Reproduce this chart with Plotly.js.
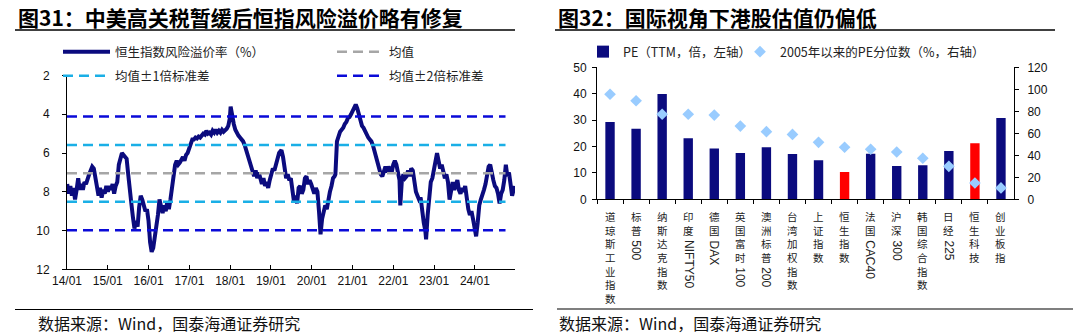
<!DOCTYPE html>
<html><head><meta charset="utf-8">
<script src="https://cdn.plot.ly/plotly-3.0.1.min.js"></script>
<style>html,body{margin:0;padding:0;background:#fff;}#chart{width:1080px;height:336px;}</style>
</head><body><div id="chart"></div>
<script>
// ===== 图31 data: 恒生指数风险溢价率（%） =====
const rpDates = [
'2014-01-03','2014-01-17','2014-01-31','2014-02-14','2014-02-28','2014-03-14','2014-03-28','2014-04-11','2014-04-25','2014-05-09','2014-05-23','2014-06-06','2014-06-20','2014-07-04','2014-07-18','2014-08-01','2014-08-15','2014-08-29','2014-09-12','2014-09-26','2014-10-10','2014-10-24','2014-11-07','2014-11-21','2014-12-05','2014-12-19',
'2015-01-02','2015-01-16','2015-01-30','2015-02-13','2015-02-27','2015-03-13','2015-03-27','2015-04-10','2015-04-24','2015-05-08','2015-05-22','2015-06-05','2015-06-19','2015-07-03','2015-07-17','2015-07-31','2015-08-14','2015-08-28','2015-09-11','2015-09-25','2015-10-09','2015-10-23','2015-11-06','2015-11-20','2015-12-04','2015-12-18',
'2016-01-01','2016-01-15','2016-01-29','2016-02-12','2016-02-26','2016-03-11','2016-03-25','2016-04-08','2016-04-22','2016-05-06','2016-05-20','2016-06-03','2016-06-17','2016-07-01','2016-07-15','2016-07-29','2016-08-12','2016-08-26','2016-09-09','2016-09-23','2016-10-07','2016-10-21','2016-11-04','2016-11-18','2016-12-02','2016-12-16','2016-12-30',
'2017-01-13','2017-01-27','2017-02-10','2017-02-24','2017-03-10','2017-03-24','2017-04-07','2017-04-21','2017-05-05','2017-05-19','2017-06-02','2017-06-16','2017-06-30','2017-07-14','2017-07-28','2017-08-11','2017-08-25','2017-09-08','2017-09-22','2017-10-06','2017-10-20','2017-11-03','2017-11-17','2017-12-01','2017-12-15','2017-12-29',
'2018-01-05','2018-01-19','2018-02-02','2018-02-16','2018-03-02','2018-03-16','2018-03-30','2018-04-13','2018-04-27','2018-05-11','2018-05-25','2018-06-08','2018-06-22','2018-07-06','2018-07-20','2018-08-03','2018-08-17','2018-08-31','2018-09-14','2018-09-28','2018-10-12','2018-10-26','2018-11-09','2018-11-23','2018-12-07','2018-12-21',
'2019-01-04','2019-01-18','2019-02-01','2019-02-15','2019-03-01','2019-03-15','2019-03-29','2019-04-05','2019-04-19','2019-05-03','2019-05-17','2019-05-31','2019-06-14','2019-06-28','2019-07-12','2019-07-26','2019-08-09','2019-08-23','2019-09-06','2019-09-20','2019-10-04','2019-10-18','2019-11-01','2019-11-15','2019-11-29','2019-12-13','2019-12-27',
'2020-01-10','2020-01-24','2020-02-07','2020-02-21','2020-03-06','2020-03-20','2020-04-03','2020-04-17','2020-05-01','2020-05-15','2020-05-29','2020-06-12','2020-06-26','2020-07-10','2020-07-24','2020-07-31','2020-08-14','2020-08-28','2020-09-11','2020-09-25','2020-10-09','2020-10-23','2020-11-06','2020-11-20','2020-12-04','2020-12-18',
'2021-01-01','2021-01-15','2021-01-29','2021-02-12','2021-02-26','2021-03-12','2021-03-26','2021-04-09','2021-04-23','2021-05-07','2021-05-21','2021-06-04','2021-06-18','2021-07-02','2021-07-16','2021-07-30','2021-08-13','2021-08-27','2021-09-10','2021-09-24','2021-10-08','2021-10-22','2021-11-05','2021-11-19','2021-12-03','2021-12-17','2021-12-31',
'2022-01-14','2022-01-28','2022-02-11','2022-02-25','2022-03-04','2022-03-18','2022-04-01','2022-04-15','2022-04-29','2022-05-13','2022-05-27','2022-06-10','2022-06-24','2022-07-08','2022-07-22','2022-08-05','2022-08-19','2022-09-02','2022-09-16','2022-09-30','2022-10-14','2022-10-21','2022-11-04','2022-11-18','2022-12-02','2022-12-16','2022-12-30',
'2023-01-13','2023-01-27','2023-02-10','2023-02-24','2023-03-10','2023-03-24','2023-04-07','2023-04-21','2023-05-05','2023-05-19','2023-06-02','2023-06-16','2023-06-30','2023-07-14','2023-07-28','2023-08-11','2023-08-25','2023-09-08','2023-09-22','2023-10-06','2023-10-20','2023-11-03','2023-11-17','2023-12-01','2023-12-15','2023-12-29',
'2024-01-12','2024-01-26','2024-02-09','2024-02-23','2024-03-08','2024-03-22','2024-04-05','2024-04-19','2024-05-03','2024-05-17','2024-05-31','2024-06-14','2024-06-28','2024-07-12','2024-07-26','2024-08-09','2024-08-23','2024-09-06','2024-09-20','2024-10-04','2024-10-18','2024-11-01','2024-11-15','2024-11-29','2024-12-13','2024-12-20'
];
const rpValues = [
7.6,8.1,7.7,8.2,7.8,8.4,7.9,7.3,7.9,7.6,7.9,7.5,7.6,7.3,7.1,6.9,6.7,6.8,7.3,8.0,8.2,7.8,8.3,7.9,8.1,7.7,
8.0,7.7,7.9,7.6,8.1,7.7,7.5,6.6,6.2,6.0,6.1,6.2,6.3,7.1,8.1,8.6,9.3,9.9,9.5,9.8,8.8,8.2,8.4,8.7,9.0,8.9,
9.5,10.6,11.1,10.9,10.4,9.6,9.2,8.4,8.9,9.1,8.7,9.0,8.5,8.9,8.4,7.8,7.0,6.6,6.4,6.6,6.5,6.3,6.2,6.4,6.1,6.0,5.8,
5.5,5.3,5.3,5.2,5.25,5.15,5.2,5.1,5.0,5.05,4.85,5.0,4.95,5.05,4.85,4.95,4.8,4.95,4.85,4.95,4.8,4.9,4.85,4.75,4.6,4.2,
3.6,4.2,4.5,4.8,5.0,5.1,5.2,5.3,5.4,5.6,5.9,6.1,6.4,6.8,6.9,7.2,6.9,7.3,7.0,7.4,7.6,7.3,7.7,7.5,7.8,7.4,
7.0,6.8,6.9,6.5,6.3,6.0,5.9,5.85,6.2,7.0,7.3,7.1,7.4,7.3,8.1,8.5,8.2,8.6,7.8,7.7,8.1,7.9,7.3,7.2,7.6,7.4,7.6,
7.9,8.1,7.8,8.0,9.0,10.2,9.4,9.0,8.7,8.9,8.3,8.0,7.7,7.3,7.2,7.1,5.4,5.1,4.9,4.8,4.7,4.5,4.4,4.2,4.15,4.0,
3.8,3.6,3.5,3.7,4.0,4.4,4.6,4.7,4.9,5.0,5.2,5.3,5.4,5.6,5.9,6.3,6.5,6.8,7.1,7.2,6.9,6.7,7.0,6.7,6.9,7.0,6.6,
6.4,6.6,7.0,7.4,8.7,7.4,7.1,7.3,7.2,6.9,7.2,6.8,6.9,7.6,8.0,8.2,8.4,8.3,9.1,9.6,10.0,10.45,9.2,8.0,7.5,7.3,6.9,
6.3,6.0,6.4,6.8,6.6,7.0,7.3,7.1,7.5,8.4,7.8,7.5,7.9,7.6,7.4,7.9,8.1,7.8,8.0,7.7,8.5,8.9,9.2,9.0,9.4,9.8,
10.3,9.6,8.7,8.4,8.2,7.9,7.6,7.1,6.7,6.6,7.1,7.4,7.7,7.8,8.1,8.6,8.1,7.9,7.4,6.6,7.2,7.0,7.6,8.2,7.9,7.7
];
const rpMean = 7.05;          // 均值
const rpStd = 1.47;           // 标准差
const bandDates = ['2014-01-01', '2024-10-01'];
const yearTickDates = ['2014-01-01','2015-01-01','2016-01-01','2017-01-01','2018-01-01','2019-01-01','2020-01-01','2021-01-01','2022-01-01','2023-01-01','2024-01-01'];
const yearTickText = ['14/01','15/01','16/01','17/01','18/01','19/01','20/01','21/01','22/01','23/01','24/01'];
const rpTicks = [2,4,6,8,10,12];

// ===== 图32 data =====
const indexNames = ['道琼斯工业指数','标普500','纳斯达克指数','印度NIFTY50','德国DAX','英国富时100','澳洲标普200','台湾加权指数','上证指数','恒生指数','法国CAC40','沪深300','韩国综合指数','日经225','恒生科技','创业板指'];
const peValues = [29.3,26.7,39.9,23.1,19.2,17.5,19.7,17.2,14.8,10.3,17.3,12.6,12.9,18.3,21.2,30.8];
const pctValues = [95.5,89.6,77.3,77.3,76.6,66.6,61.5,59.0,51.8,47.3,45.5,43.0,37.3,30.0,14.8,10.3];
const highlighted = ['恒生指数','恒生科技'];

// ===== helpers =====
const W = 1080, H = 336;
const px = v => v / W;
const py = v => 1 - v / H;
const CJK = 'Noto Sans CJK SC';
const LAT = 'Liberation Sans, Arial, sans-serif';

const navy = '#0B0B7E';
const traces = [];

// --- left chart traces
traces.push({
  type: 'scatter', mode: 'lines', x: rpDates, y: rpValues,
  name: '恒生指数风险溢价率（%）', line: {color: navy, width: 4}, xaxis: 'x', yaxis: 'y', legend: 'legend'
});
traces.push({
  type: 'scatter', mode: 'lines', x: bandDates, y: [rpMean, rpMean],
  name: '均值', line: {color: '#A6A6A6', width: 2.5, dash: '10px,6px'}, xaxis: 'x', yaxis: 'y', legend: 'legend'
});
traces.push({
  type: 'scatter', mode: 'lines',
  x: [bandDates[0], bandDates[1], null, bandDates[0], bandDates[1]],
  y: [rpMean - rpStd, rpMean - rpStd, null, rpMean + rpStd, rpMean + rpStd],
  name: '均值±1倍标准差', connectgaps: false,
  line: {color: '#1AAFE6', width: 2.5, dash: '10px,6px'}, xaxis: 'x', yaxis: 'y', legend: 'legend2'
});
traces.push({
  type: 'scatter', mode: 'lines',
  x: [bandDates[0], bandDates[1], null, bandDates[0], bandDates[1]],
  y: [rpMean - 2 * rpStd, rpMean - 2 * rpStd, null, rpMean + 2 * rpStd, rpMean + 2 * rpStd],
  name: '均值±2倍标准差', connectgaps: false,
  line: {color: '#0A0AD8', width: 2.5, dash: '10px,6px'}, xaxis: 'x', yaxis: 'y', legend: 'legend2'
});

// --- right chart traces
traces.push({
  type: 'bar', x: indexNames, y: peValues, name: 'PE（TTM，倍，左轴）',
  marker: {color: indexNames.map(n => highlighted.includes(n) ? '#FF0000' : navy)},
  xaxis: 'x2', yaxis: 'y2', legend: 'legend3'
});
traces.push({
  type: 'scatter', mode: 'markers', x: indexNames, y: pctValues, name: '2005年以来的PE分位数（%，右轴）',
  marker: {symbol: 'diamond', size: 9, color: '#99CCFF'},
  xaxis: 'x2', yaxis: 'y3', legend: 'legend4'
});

// --- annotations
const ann = [];
ann.push({text: '<b>图31：中美高关税暂缓后恒指风险溢价略有修复</b>', xref: 'paper', yref: 'paper', x: px(16), y: py(17), xanchor: 'left', yanchor: 'middle', showarrow: false, font: {family: CJK, size: 21, color: '#000'}});
ann.push({text: '<b>图32：国际视角下港股估值仍偏低</b>', xref: 'paper', yref: 'paper', x: px(556), y: py(17), xanchor: 'left', yanchor: 'middle', showarrow: false, font: {family: CJK, size: 21, color: '#000'}});
ann.push({text: '数据来源：Wind，国泰海通证券研究', xref: 'paper', yref: 'paper', x: px(36), y: py(323), xanchor: 'left', yanchor: 'middle', showarrow: false, font: {family: CJK, size: 16, color: '#111'}});
ann.push({text: '数据来源：Wind，国泰海通证券研究', xref: 'paper', yref: 'paper', x: px(557), y: py(323), xanchor: 'left', yanchor: 'middle', showarrow: false, font: {family: CJK, size: 16, color: '#111'}});

// vertical category labels: CJK characters stacked, Latin part rotated
const axisBottom = py(199.3);
const labelFs = 10.5, lineH = labelFs * 1.3, topOff = 7.7;
indexNames.forEach(name => {
  const m = name.match(/^([^\x00-\x7F]*)(.*)$/);
  const cjk = Array.from(m[1]);
  const lat = m[2];
  ann.push({text: cjk.join('<br>'), xref: 'x2', yref: 'paper', x: name, y: axisBottom, yshift: -topOff,
    xanchor: 'center', yanchor: 'top', showarrow: false, font: {family: CJK, size: labelFs, color: '#222'}});
  if (lat) {
    ann.push({text: lat, xref: 'x2', yref: 'paper', x: name, y: axisBottom, yshift: -(topOff + 2 + cjk.length * lineH + 2),
      xanchor: 'center', yanchor: 'top', textangle: 90, showarrow: false, font: {family: LAT, size: 12, color: '#222'}});
  }
});

const shapes = [
  {type: 'line', xref: 'paper', yref: 'paper', x0: px(15), x1: px(515), y0: py(30), y1: py(30), line: {color: '#000', width: 1.5}},
  {type: 'line', xref: 'paper', yref: 'paper', x0: px(555), x1: px(1055), y0: py(30), y1: py(30), line: {color: '#000', width: 1.5}},
  {type: 'line', xref: 'paper', yref: 'paper', x0: px(15), x1: px(533), y0: py(309.5), y1: py(309.5), line: {color: '#000', width: 1.2}},
  {type: 'line', xref: 'paper', yref: 'paper', x0: px(557), x1: px(1073), y0: py(309), y1: py(309), line: {color: '#000', width: 1.2}}
];

const axisCommon = {showline: true, linecolor: '#000', linewidth: 1, showgrid: false, zeroline: false, tickcolor: '#000', ticklen: 4, tickfont: {family: LAT, size: 12, color: '#111'}};

const legendCommon = {orientation: 'h', xanchor: 'left', yanchor: 'middle', bgcolor: 'rgba(0,0,0,0)', borderwidth: 0,
  font: {family: CJK, size: 12.5, color: '#222'}, tracegroupgap: 0};

const layout = {
  width: W, height: H, margin: {l: 0, r: 0, t: 0, b: 0},
  paper_bgcolor: '#fff', plot_bgcolor: 'rgba(0,0,0,0)',
  font: {family: LAT, size: 12, color: '#111'},
  showlegend: true, bargap: 0.64,
  xaxis: Object.assign({}, axisCommon, {domain: [px(67), px(515)], type: 'date', range: ['2014-01-01', '2024-12-25'],
    tickmode: 'array', tickvals: yearTickDates, ticktext: yearTickText, ticks: 'inside', anchor: 'y'}),
  yaxis: Object.assign({}, axisCommon, {domain: [py(269.3), py(75.5)], range: [12, 2], tickmode: 'array', tickvals: rpTicks,
    ticks: 'outside', anchor: 'x', ticklabelstandoff: 10}),
  xaxis2: Object.assign({}, axisCommon, {domain: [px(597), px(1014)], type: 'category', range: [-0.5, indexNames.length - 0.5],
    ticks: 'outside', tickson: 'boundaries', showticklabels: false, anchor: 'y2'}),
  yaxis2: Object.assign({}, axisCommon, {domain: [py(199.3), py(67.3)], range: [0, 50], dtick: 10, ticks: 'outside', anchor: 'x2', ticklabelstandoff: 3}),
  yaxis3: Object.assign({}, axisCommon, {overlaying: 'y2', side: 'right', anchor: 'x2', range: [0, 120], dtick: 20, ticks: 'outside', ticklabelstandoff: 6}),
  legend: Object.assign({}, legendCommon, {x: px(58), y: py(52), itemwidth: 47, entrywidth: 212, entrywidthmode: 'pixels'}),
  legend2: Object.assign({}, legendCommon, {x: px(58), y: py(76), itemwidth: 47, entrywidth: 212, entrywidthmode: 'pixels'}),
  legend3: Object.assign({}, legendCommon, {x: px(583), y: py(52), itemwidth: 30}),
  legend4: Object.assign({}, legendCommon, {x: px(740), y: py(52), itemwidth: 30}),
  annotations: ann, shapes: shapes
};

Plotly.newPlot('chart', traces, layout, {displayModeBar: false, staticPlot: true});
</script>
</body></html>
